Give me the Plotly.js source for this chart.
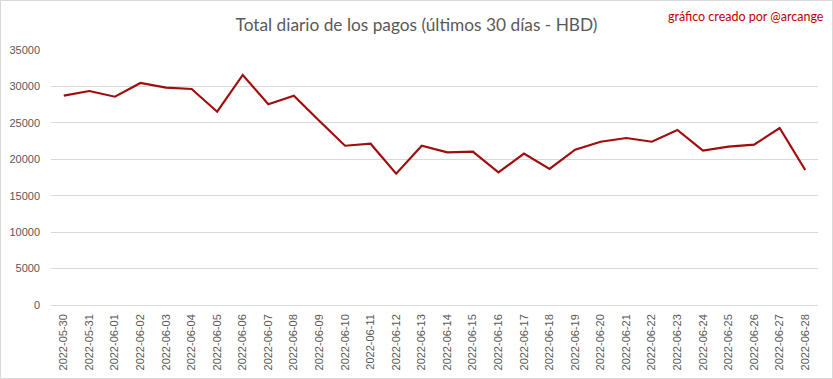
<!DOCTYPE html>
<html>
<head>
<meta charset="utf-8">
<script src="https://cdn.plot.ly/plotly-3.0.1.min.js"></script>
<style>
html,body{margin:0;padding:0;background:#fff;}
#wrap{position:relative;width:833px;height:379px;}
#chart{width:833px;height:379px;}
#frame{position:absolute;left:0;top:0;width:833px;height:379px;box-sizing:border-box;border:1px solid #d9d9d9;pointer-events:none;}
</style>
</head>
<body>
<div id="wrap"><div id="chart"></div><div id="frame"></div></div>
<script>
const dates = ["2022-05-30","2022-05-31","2022-06-01","2022-06-02","2022-06-03","2022-06-04","2022-06-05","2022-06-06","2022-06-07","2022-06-08","2022-06-09","2022-06-10","2022-06-11","2022-06-12","2022-06-13","2022-06-14","2022-06-15","2022-06-16","2022-06-17","2022-06-18","2022-06-19","2022-06-20","2022-06-21","2022-06-22","2022-06-23","2022-06-24","2022-06-25","2022-06-26","2022-06-27","2022-06-28"];
const totals = [28730,29370,28590,30470,29830,29650,26530,31570,27550,28730,25250,21860,22140,18020,21860,20950,21040,18210,20770,18670,21320,22410,22920,22410,24020,21180,21730,22000,24300,18530];
const yTicks = [0,5000,10000,15000,20000,25000,30000,35000];

const trace = {
  x: dates, y: totals, type: 'scatter', mode: 'lines',
  line: {color: '#a00d0d', width: 2.2},
  hoverinfo: 'x+y'
};
const layout = {
  width: 833, height: 379,
  margin: {l: 51, r: 15, t: 50, b: 74},
  paper_bgcolor: '#fff', plot_bgcolor: '#fff',
  showlegend: false,
  title: {text: 'Total diario de los pagos (últimos 30 días - HBD)', x: 0.5, xanchor: 'center', y: 0.935, yanchor: 'middle',
          font: {family: 'Lato, "Open Sans", sans-serif', size: 17.3, color: '#595959'}},
  xaxis: {type: 'category', range: [-0.5, dates.length - 0.5], showgrid: false, zeroline: false,
          showline: false, ticks: '', tickangle: -90, ticklabelstandoff: 6,
          tickfont: {family: '"Liberation Sans", Arial, sans-serif', size: 11, color: '#595959'}},
  yaxis: {range: [0, 35000], tickvals: yTicks, ticktext: yTicks.map(String), showgrid: true, gridcolor: '#d9d9d9', gridwidth: 1,
          zeroline: true, zerolinecolor: '#d9d9d9', zerolinewidth: 1, showline: false, ticks: '', ticklabelstandoff: 10,
          tickfont: {family: '"Liberation Sans", Arial, sans-serif', size: 11, color: '#595959'}},
  annotations: [{text: 'gráfico creado por @arcange', xref: 'paper', yref: 'paper', x: 1.01, xanchor: 'right', y: 1.13, yanchor: 'middle', showarrow: false,
                 font: {family: 'Lato, "Open Sans", sans-serif', size: 12.5, color: '#c00000'}}]
};
Plotly.newPlot('chart', [trace], layout, {displayModeBar: false, staticPlot: true});
</script>
</body>
</html>
